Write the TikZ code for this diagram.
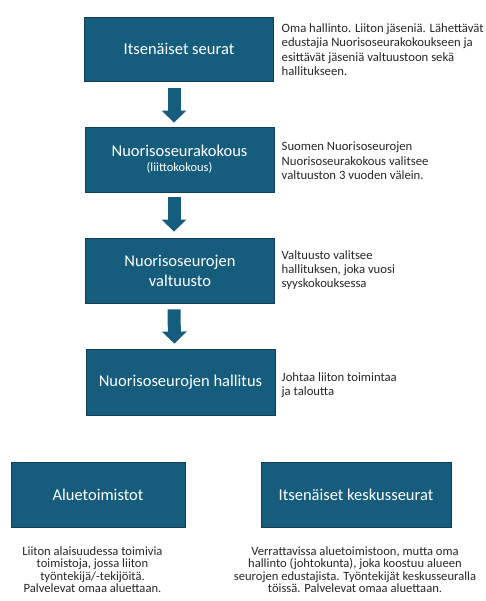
\documentclass[tikz,border=0pt]{standalone}
\usepackage{fontspec}
\setmainfont{Carlito}
\usetikzlibrary{arrows.meta}
\definecolor{boxfill}{HTML}{165D7D}
\definecolor{boxdraw}{HTML}{123F55}
\definecolor{txt}{HTML}{262626}
\tikzset{
  orgbox/.style={draw=boxdraw, line width=0.8pt, fill=boxfill, text=white, minimum width=#1, minimum height=65pt, inner sep=0pt, align=center, font=\fontsize{16.5}{20}\selectfont},
  orgbox/.default=189pt,
  blockarrow/.style={draw=boxfill, line width=13pt, -{Triangle[width=24pt,length=12pt]}},
  sidetext/.style={anchor=base west, inner sep=0pt, text=txt, font=\fontsize{12.7}{14.3}\selectfont},
  bottomtext/.style={anchor=base, inner sep=0pt, text=txt, font=\fontsize{12.6}{12.5}\selectfont},
}
\begin{document}
\begin{tikzpicture}[x=1pt,y=-1pt]
\useasboundingbox (0,0) rectangle (486,601);
\node[orgbox, minimum height=64pt] (b1) at (179,49) {Itsenäiset seurat};
\node[orgbox] (b2) at (179.5,159.5) {Nuorisoseurakokous\\[-5pt]{\fontsize{12.5}{15}\selectfont(liittokokous)}};
\node[orgbox] (b3) at (180,270.5) {Nuorisoseurojen\\valtuusto};
\node[orgbox, minimum height=66pt] (b4) at (180.5,382) {Nuorisoseurojen hallitus};
\node[orgbox=174pt] (b5) at (98,494.5) {Aluetoimistot};
\node[orgbox=190pt] (b6) at (356,494.5) {Itsenäiset keskusseurat};

\draw[blockarrow, shorten <=7pt, shorten >=4pt] ([xshift=-5pt]b1.south) -- ([xshift=-5.5pt]b2.north);
\draw[blockarrow, shorten <=5pt, shorten >=6pt] ([xshift=-5.5pt]b2.south) -- ([xshift=-6pt]b3.north);
\draw[blockarrow, shorten <=6pt, shorten >=5pt] ([xshift=-6pt]b3.south) -- ([xshift=-6pt]b4.north);

\node[sidetext] (t1) at (281.5,32.7) {\parbox[t]{250pt}{\raggedright Oma hallinto. Liiton jäseniä. Lähettävät\\ edustajia Nuorisoseurakokoukseen ja\\ esittävät jäseniä valtuustoon sekä\\ hallitukseen.}};
\node[sidetext] (t2) at (281.5,151) {\parbox[t]{250pt}{\raggedright Suomen Nuorisoseurojen\\ Nuorisoseurakokous valitsee\\ valtuuston 3 vuoden välein.}};
\node[sidetext] (t3) at (281.5,259) {\parbox[t]{250pt}{\raggedright Valtuusto valitsee\\ hallituksen, joka vuosi\\ syyskokouksessa}};
\node[sidetext] (t4) at (281.5,381) {\parbox[t]{250pt}{\raggedright Johtaa liiton toimintaa\\ ja taloutta}};
\node[bottomtext] (t5) at (92.5,555) {\parbox[t]{180pt}{\centering Liiton alaisuudessa toimivia\\ toimistoja, jossa liiton\\ työntekijä/-tekijöitä.\\ Palvelevat omaa aluettaan.}};
\node[bottomtext] (t6) at (355,555) {\parbox[t]{270pt}{\centering Verrattavissa aluetoimistoon, mutta oma\\ hallinto (johtokunta), joka koostuu alueen\\ seurojen edustajista. Työntekijät keskusseuralla\\ töissä. Palvelevat omaa aluettaan.}};
\end{tikzpicture}
\end{document}
